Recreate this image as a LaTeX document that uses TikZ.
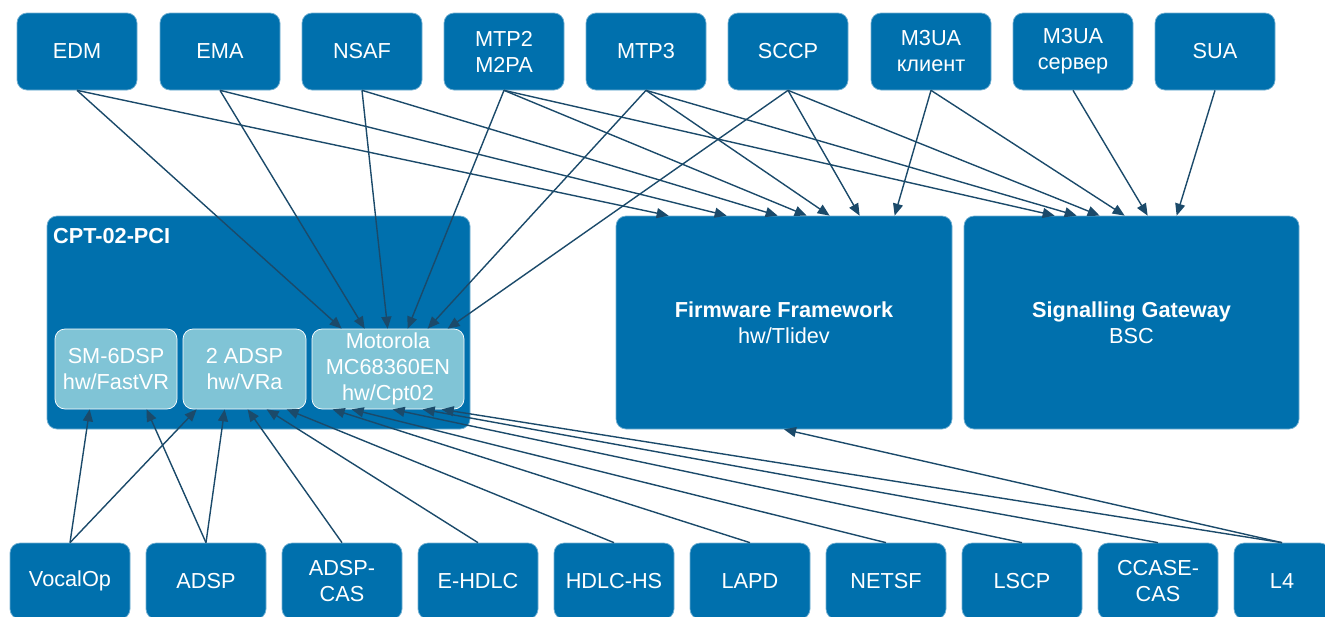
\documentclass[tikz,border=0pt]{standalone}
\usepackage{fontspec}
\setmainfont{Liberation Sans}
\usetikzlibrary{arrows.meta}

\definecolor{blokblue}{HTML}{0070AD}
\definecolor{bloklight}{HTML}{80C4D6}
\definecolor{strelka}{HTML}{1B4A6A}

\tikzset{
  blok/.style={fill=blokblue, draw=blokblue!55!white, line width=0.7pt, rounded corners=10pt,
    text=white, align=center, inner sep=0pt, font=\fontsize{21.7}{26}\selectfont},
  verh/.style={blok, minimum width=120pt, minimum height=77pt},
  niz/.style={blok, minimum width=120pt, minimum height=76pt},
  chip/.style={blok, fill=bloklight, draw=white, minimum height=80pt},
  svyaz/.style={draw=strelka, line width=1.4pt, -{Triangle[length=12pt, width=10pt]}}
}

\begin{document}
\begin{tikzpicture}[x=1pt, y=1pt, yscale=-1]
\clip (0,0) rectangle (1325,616);
% верхний ряд
\node[verh] (edm) at (77,51.5) {EDM};
\node[verh] (ema) at (220,51.5) {EMA};
\node[verh] (nsaf) at (362,51.5) {NSAF};
\node[verh] (mtpdva) at (504,51.5) {MTP2\\M2PA};
\node[verh] (mtptri) at (646,51.5) {MTP3};
\node[verh] (sccp) at (788,51.5) {SCCP};
\node[verh] (mklient) at (931,51.5) {M3UA\\клиент};
\node[verh] (mserver) at (1073,51.5) {M3UA\\сервер};
\node[verh] (sua) at (1215,51.5) {SUA};
% плата CPT-02-PCI
\node[blok, minimum width=423pt, minimum height=213pt] (cpt) at (258.5,322.5) {};
\node[anchor=west, text=white, inner sep=0pt, font=\bfseries\fontsize{21.7}{26}\selectfont] (cpttitle) at (53,236) {CPT-02-PCI};
\node[chip, minimum width=122pt] (smsix) at (116,369) {SM-6DSP\\hw/FastVR};
\node[chip, minimum width=123pt] (adspdva) at (244.5,369) {2 ADSP\\hw/VRa};
\node[chip, minimum width=152pt] (moto) at (388,369) {Motorola\\MC68360EN\\hw/Cpt02};
% правые блоки
\node[blok, minimum width=336pt, minimum height=213pt] (fw) at (784,322.5) {\textbf{Firmware Framework}\\hw/Tlidev};
\node[blok, minimum width=335pt, minimum height=213pt] (sg) at (1131.5,322.5) {\textbf{Signalling Gateway}\\BSC};
% нижний ряд
\node[niz] (vocal) at (70,581) {VocalOp};
\node[niz] (adsp) at (206,581) {ADSP};
\node[niz] (adspcas) at (342,581) {ADSP-\\CAS};
\node[niz] (ehdlc) at (478,581) {E-HDLC};
\node[niz] (hdlchs) at (614,581) {HDLC-HS};
\node[niz] (lapd) at (750,581) {LAPD};
\node[niz] (netsf) at (886,581) {NETSF};
\node[niz] (lscp) at (1022,581) {LSCP};
\node[niz] (ccase) at (1158,581) {CCASE-\\CAS};
\node[niz, minimum width=96pt] (lchetyre) at (1282,581) {L4};
% сверху вниз
\draw[svyaz] (edm.south) -- ([xshift=30pt]moto.north west);
\draw[svyaz] (edm.south) -- ([xshift=53pt]fw.north west);
\draw[svyaz] (ema.south) -- ([xshift=53pt]moto.north west);
\draw[svyaz] (ema.south) -- ([xshift=111pt]fw.north west);
\draw[svyaz] (nsaf.south) -- ([xshift=76pt]moto.north west);
\draw[svyaz] (nsaf.south) -- ([xshift=162pt]fw.north west);
\draw[svyaz] (mtpdva.south) -- ([xshift=96pt]moto.north west);
\draw[svyaz] (mtpdva.south) -- ([xshift=191pt]fw.north west);
\draw[svyaz] (mtpdva.south) -- ([xshift=91pt]sg.north west);
\draw[svyaz] (mtptri.south) -- ([xshift=116pt]moto.north west);
\draw[svyaz] (mtptri.south) -- ([xshift=214pt]fw.north west);
\draw[svyaz] (mtptri.south) -- ([xshift=113pt]sg.north west);
\draw[svyaz] (sccp.south) -- ([xshift=136pt]moto.north west);
\draw[svyaz] (sccp.south) -- ([xshift=244pt]fw.north west);
\draw[svyaz] (sccp.south) -- ([xshift=136pt]sg.north west);
\draw[svyaz] (mklient.south) -- ([xshift=279pt]fw.north west);
\draw[svyaz] (mklient.south) -- ([xshift=161pt]sg.north west);
\draw[svyaz] (mserver.south) -- ([xshift=184pt]sg.north west);
\draw[svyaz] (sua.south) -- ([xshift=213pt]sg.north west);
% снизу вверх
\draw[svyaz] (vocal.north) -- ([xshift=35pt]smsix.south west);
\draw[svyaz] (vocal.north) -- ([xshift=14pt]adspdva.south west);
\draw[svyaz] (adsp.north) -- ([xshift=92pt]smsix.south west);
\draw[svyaz] (adsp.north) -- ([xshift=42pt]adspdva.south west);
\draw[svyaz] (adspcas.north) -- ([xshift=65pt]adspdva.south west);
\draw[svyaz] (ehdlc.north) -- ([xshift=84pt]adspdva.south west);
\draw[svyaz] (hdlchs.north) -- ([xshift=104pt]adspdva.south west);
\draw[svyaz] (lapd.north) -- ([xshift=21pt]moto.south west);
\draw[svyaz] (netsf.north) -- ([xshift=40pt]moto.south west);
\draw[svyaz] (lscp.north) -- ([xshift=81pt]moto.south west);
\draw[svyaz] (ccase.north) -- ([xshift=111pt]moto.south west);
\draw[svyaz] (lchetyre.north) -- ([xshift=130pt]moto.south west);
\draw[svyaz] (lchetyre.north) -- (fw.south);
\end{tikzpicture}
\end{document}
